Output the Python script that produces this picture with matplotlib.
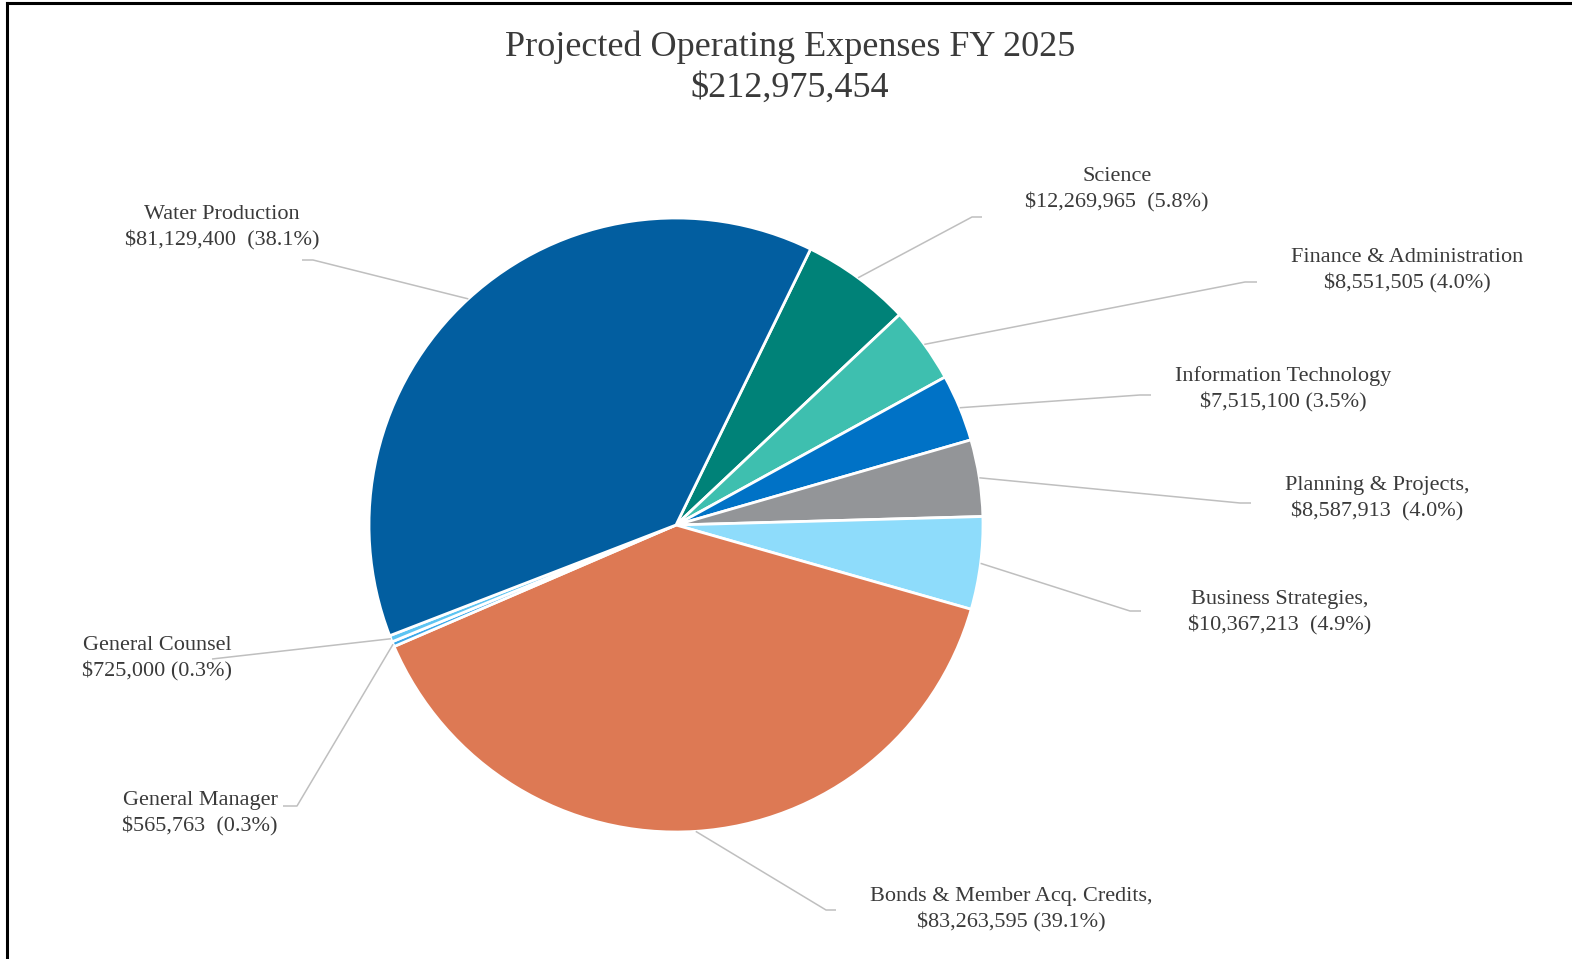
import numpy as np
import matplotlib
matplotlib.use("Agg")
import matplotlib.pyplot as plt
from matplotlib.lines import Line2D

plt.rcParams['font.family'] = ['Liberation Serif', 'DejaVu Serif']

# departments, clockwise starting from Science
departments = ['Science', 'Finance & Administration', 'Information Technology',
               'Planning & Projects,', 'Business Strategies,',
               'Bonds & Member Acq. Credits,', 'General Manager',
               'General Counsel', 'Water Production']
expenses = [12269965, 8551505, 7515100, 8587913, 10367213,
            83263595, 565763, 725000, 81129400]
gaps = ['  ', ' ', ' ', '  ', '  ', ' ', '  ', ' ', '  ']
colors = ['#008278', '#3EBFAF', '#0072C6', '#939598', '#8EDCFB',
          '#DD7954', '#3BA7E8', '#5DC4F2', '#025EA0']

W, H = 1572, 959
cx, cy, R = 676, 525, 307

# label centre, elbow and end of each leader line (pixels, y down)
label_xy = [(1117, 190), (1407, 271), (1283, 389), (1377, 499), (1280, 613),
            (1011, 910), (200, 814), (157, 659), (222, 228)]
elbow_xy = [(972, 217), (1245, 282), (1140, 395), (1240, 503), (1130, 611),
            (826, 910), (297, 806), (212, 659), (313, 260)]
end_xy = [(982, 217), (1257, 282), (1151, 395), (1251, 503), (1141, 611),
          (836, 910), (283, 806), (212, 659), (302, 260)]

total = sum(expenses)

fig = plt.figure(figsize=(W / 100, H / 100), dpi=100)
ax = fig.add_axes([0, 0, 1, 1])

wedges, _ = ax.pie(expenses, colors=colors, startangle=64, counterclock=False,
                   center=(cx, H - cy), radius=R, frame=True,
                   wedgeprops=dict(edgecolor='white', linewidth=2.0))
ax.set_xlim(0, W)
ax.set_ylim(0, H)
ax.set_aspect('equal')
ax.axis('off')

txt_color = '#3A3A3A'
line_color = '#BFBFBF'
for w, name, val, gap, lxy, exy, nxy in zip(wedges, departments, expenses, gaps,
                                            label_xy, elbow_xy, end_xy):
    mid = np.deg2rad((w.theta1 + w.theta2) / 2)
    sx = cx + R * np.cos(mid)
    sy = (H - cy) + R * np.sin(mid)
    ax.plot([sx, exy[0], nxy[0]], [sy, H - exy[1], H - nxy[1]],
            color=line_color, lw=1.1, solid_capstyle='butt', zorder=1)
    pct = val / total * 100
    ax.text(lxy[0], H - lxy[1], f"{name}\n${val:,}{gap}({pct:.1f}%)",
            ha='center', va='center', multialignment='center',
            fontsize=16, color=txt_color, linespacing=1.42)

fig.text(790 / W, 1 - 68 / H, f"Projected Operating Expenses FY 2025\n${total:,}",
         ha='center', va='center', fontsize=26, color=txt_color, linespacing=1.3)

# frame edges along the left and top
fig.add_artist(Line2D([7 / W, 7 / W], [0, 1 - 3 / H], color='black', lw=2.2,
                      transform=fig.transFigure))
fig.add_artist(Line2D([7 / W, 1], [1 - 3 / H, 1 - 3 / H], color='black', lw=2.2,
                      transform=fig.transFigure))

fig.savefig('out.png', dpi=100, facecolor='white')
